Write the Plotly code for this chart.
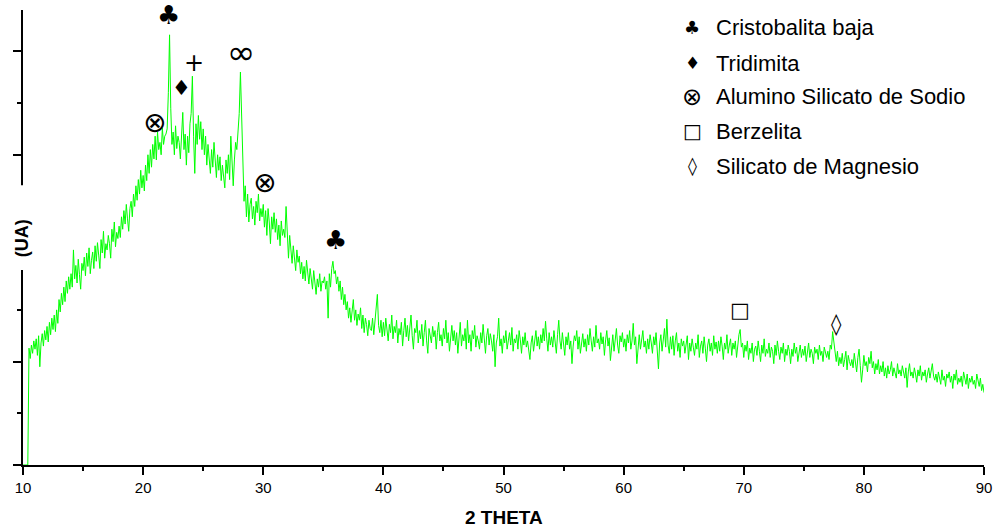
import plotly.graph_objects as go

# ---------------- data ----------------
two_theta_start = 10.0
two_theta_step = 0.1
# intensity (arbitrary units), one row per degree (x.0 .. x.9)
intensity_rows = [
    [0, 0, 0, 0, 0, 113, 103, 116, 108, 120],            # 10
    [112, 122, 106, 125, 95, 118, 127, 115, 130, 121],   # 11
    [134, 119, 138, 126, 142, 131, 145, 129, 150, 137],  # 12
    [160, 148, 166, 155, 172, 158, 178, 166, 182, 170],  # 13
    [185, 172, 208, 180, 193, 176, 199, 184, 170, 195],  # 14
    [188, 201, 183, 205, 192, 210, 185, 198, 206, 190],  # 15
    [212, 197, 215, 203, 190, 218, 205, 226, 200, 214],  # 16
    [208, 222, 214, 200, 228, 216, 235, 211, 225, 219],  # 17
    [231, 220, 240, 228, 246, 233, 252, 238, 226, 248],  # 18
    [255, 240, 262, 250, 270, 256, 276, 262, 285, 268],  # 19
    [280, 265, 290, 275, 300, 282, 305, 288, 310, 296],  # 20
    [318, 295, 322, 305, 312, 300, 326, 310, 318, 320],  # 21
    [325, 360, 416, 345, 310, 322, 300, 328, 306, 318],  # 22
    [312, 296, 325, 341, 305, 320, 290, 318, 302, 330],  # 23
    [340, 376, 318, 282, 330, 310, 338, 315, 332, 305],  # 24
    [325, 300, 318, 290, 310, 296, 282, 305, 288, 312],  # 25
    [292, 278, 300, 285, 298, 275, 290, 280, 268, 295],  # 26
    [282, 300, 276, 318, 285, 270, 295, 312, 305, 322],  # 27
    [340, 380, 335, 290, 255, 270, 240, 262, 235, 252],  # 28
    [258, 238, 250, 232, 255, 244, 262, 236, 248, 240],  # 29
    [252, 230, 246, 222, 248, 235, 214, 240, 228, 244],  # 30
    [225, 238, 218, 232, 212, 236, 222, 228, 220, 250],  # 31
    [215, 200, 222, 208, 195, 212, 200, 188, 208, 196],  # 32
    [202, 185, 196, 180, 192, 178, 198, 184, 175, 190],  # 33
    [182, 170, 188, 175, 165, 180, 172, 185, 168, 178],  # 34
    [176, 182, 170, 178, 142, 185, 172, 190, 197, 185],  # 35
    [188, 175, 182, 168, 178, 160, 172, 155, 165, 150],  # 36
    [158, 142, 152, 138, 148, 160, 140, 150, 135, 146],  # 37
    [140, 152, 132, 145, 128, 142, 136, 125, 140, 132],  # 38
    [130, 142, 126, 138, 148, 165, 135, 128, 140, 124],  # 39
    [138, 125, 142, 130, 120, 136, 128, 145, 122, 134],  # 40
    [128, 140, 118, 132, 126, 138, 115, 130, 142, 124],  # 41
    [135, 120, 130, 145, 125, 112, 132, 128, 140, 118],  # 42
    [130, 122, 136, 115, 128, 140, 120, 108, 132, 125],  # 43
    [118, 134, 124, 130, 112, 128, 138, 120, 126, 115],  # 44
    [132, 122, 140, 118, 128, 110, 126, 135, 120, 130],  # 45
    [116, 128, 108, 124, 138, 115, 126, 120, 132, 112],  # 46
    [140, 118, 126, 110, 130, 122, 135, 114, 125, 120],  # 47
    [112, 128, 118, 136, 120, 108, 125, 132, 116, 127],  # 48
    [120, 110, 126, 95, 118, 124, 142, 115, 122, 108],   # 49
    [125, 118, 130, 112, 120, 128, 116, 133, 110, 122],  # 50
    [118, 126, 112, 130, 121, 108, 124, 116, 128, 114],  # 51
    [120, 112, 102, 118, 125, 110, 122, 130, 115, 124],  # 52
    [112, 126, 118, 132, 120, 139, 122, 110, 128, 116],  # 53
    [124, 114, 130, 118, 108, 126, 140, 120, 112, 128],  # 54
    [118, 106, 124, 116, 128, 112, 120, 98, 115, 125],   # 55
    [120, 130, 112, 124, 108, 118, 127, 114, 122, 110],  # 56
    [126, 116, 132, 120, 110, 124, 114, 135, 118, 122],  # 57
    [112, 128, 117, 124, 106, 121, 130, 115, 123, 101],  # 58
    [118, 126, 110, 122, 132, 116, 108, 125, 119, 128],  # 59
    [114, 122, 110, 126, 118, 130, 112, 120, 137, 116],  # 60
    [124, 98, 118, 126, 112, 121, 130, 114, 120, 108],   # 61
    [122, 112, 126, 118, 108, 124, 116, 128, 112, 93],   # 62
    [118, 126, 110, 122, 132, 114, 141, 116, 108, 124],  # 63
    [112, 125, 106, 120, 128, 110, 118, 104, 122, 115],  # 64
    [120, 108, 116, 125, 102, 118, 110, 122, 114, 106],  # 65
    [118, 112, 126, 104, 115, 120, 108, 124, 113, 100],  # 66
    [116, 122, 110, 118, 106, 125, 112, 119, 108, 120],  # 67
    [110, 124, 115, 102, 118, 112, 126, 108, 116, 122],  # 68
    [106, 118, 112, 120, 104, 116, 126, 131, 114, 118],  # 69
    [104, 116, 110, 120, 102, 113, 108, 118, 100, 112],  # 70
    [115, 106, 120, 110, 100, 116, 108, 122, 105, 112],  # 71
    [108, 118, 104, 114, 110, 98, 116, 106, 120, 110],   # 72
    [102, 114, 108, 118, 100, 112, 106, 116, 110, 98],   # 73
    [112, 105, 118, 108, 114, 100, 110, 116, 104, 112],  # 74
    [106, 115, 100, 110, 118, 104, 112, 108, 98, 114],   # 75
    [108, 112, 102, 116, 106, 110, 100, 114, 108, 104],  # 76
    [110, 102, 116, 112, 129, 120, 106, 100, 110, 96],   # 77
    [104, 98, 108, 95, 102, 110, 92, 106, 100, 96],      # 78
    [102, 94, 108, 98, 90, 104, 112, 96, 80, 92],        # 79
    [106, 96, 100, 90, 104, 98, 110, 94, 100, 88],       # 80
    [98, 92, 102, 88, 96, 90, 100, 86, 94, 84],          # 81
    [96, 88, 92, 100, 86, 94, 90, 84, 98, 88],           # 82
    [92, 86, 96, 88, 84, 94, 75, 90, 98, 86],            # 83
    [90, 84, 94, 88, 80, 92, 86, 96, 82, 90],            # 84
    [86, 92, 80, 88, 94, 84, 90, 98, 86, 82],            # 85
    [88, 80, 90, 84, 78, 92, 82, 86, 76, 88],            # 86
    [84, 90, 80, 86, 74, 88, 82, 92, 78, 84],            # 87
    [80, 86, 76, 90, 82, 78, 88, 74, 84, 80],            # 88
    [86, 78, 82, 74, 88, 80, 76, 84, 72, 78],            # 89
    [70],                                                # 90
]

# peak markers: symbol, 2-theta, label height (arbitrary units)
peak_symbols = ["\u2663", "\u2666", "+", "\u221E", "\u2297", "\u2297", "\u2663", "\u25A1", "\u25CA"]
peak_x = [22.09, 23.23, 24.25, 28.16, 20.92, 30.07, 35.98, 69.68, 77.72]
peak_y = [435, 365, 389, 399, 331, 273, 218, 150, 136]

legend_symbols = ["\u2663", "\u2666", "\u2297", "\u25A1", "\u25CA"]
legend_labels = ["Cristobalita baja", "Tridimita", "Alumino Silicato de Sodio",
                 "Berzelita", "Silicato de Magnesio"]

x_ticks = [10, 20, 30, 40, 50, 60, 70, 80, 90]
y_ticks = [0, 100, 200, 300, 400]

# ---------------- style ----------------
FONT = "Liberation Sans, Arial, sans-serif"
SYM = "DejaVu Sans, sans-serif"
peak_font_size = {"\u2663": 26, "\u2666": 21, "+": 24, "\u221E": 34, "\u2297": 28,
                  "\u25A1": 21, "\u25CA": 21}
legend_font_size = {"\u2663": 18, "\u2666": 17, "\u2297": 24, "\u25A1": 20, "\u25CA": 18}

# ---------------- build ----------------
intensity = [v for row in intensity_rows for v in row]
two_theta = [round(two_theta_start + i * two_theta_step, 2) for i in range(len(intensity))]

fig = go.Figure()
fig.add_trace(go.Scatter(x=two_theta, y=intensity, mode="lines",
                         line=dict(color="#00ff00", width=1), showlegend=False,
                         hoverinfo="skip"))

fig.update_layout(
    width=994, height=529,
    margin=dict(l=23, r=10, t=10, b=64, autoexpand=False),
    paper_bgcolor="white", plot_bgcolor="white",
    font=dict(family=FONT, color="black", size=15),
    showlegend=False,
)
fig.update_xaxes(range=[10, 90], tickvals=x_ticks, ticks="outside", ticklen=8, tickwidth=1.5,
                 tickcolor="black", showline=True, linecolor="black", linewidth=1.5,
                 showgrid=False, zeroline=False, tickfont=dict(size=15, family=FONT),
                 automargin=False,
                 minor=dict(ticks="outside", ticklen=4, tickwidth=1.5, tickcolor="black",
                            dtick=5, tick0=0, showgrid=False))
fig.update_yaxes(range=[0, 440], tickvals=y_ticks, ticks="outside", ticklen=8, tickwidth=1.5,
                 tickcolor="black", showline=True, linecolor="black", linewidth=1.5,
                 showgrid=False, zeroline=False, showticklabels=False, automargin=False,
                 minor=dict(ticks="outside", ticklen=4, tickwidth=1.5, tickcolor="black",
                            dtick=50, tick0=0, showgrid=False))

# white gap in the y axis behind the axis title
fig.add_shape(type="rect", xref="paper", yref="paper", x0=-0.03, x1=0.002,
              y0=0.4286, y1=0.615, fillcolor="white", line=dict(width=0), layer="above")

for s, xx, yy in zip(peak_symbols, peak_x, peak_y):
    fig.add_annotation(x=xx, y=yy, xref="x", yref="y", text=s, showarrow=False,
                       font=dict(family=SYM, size=peak_font_size[s], color="black"),
                       xanchor="center", yanchor="middle")

leg_y = [0.9626, 0.8835, 0.8088, 0.734, 0.657]
for s, lab, yy in zip(legend_symbols, legend_labels, leg_y):
    fig.add_annotation(x=0.6965, y=yy, xref="paper", yref="paper", text=s, showarrow=False,
                       font=dict(family=SYM, size=legend_font_size[s], color="black"),
                       xanchor="center", yanchor="middle")
    fig.add_annotation(x=0.7214, y=yy, xref="paper", yref="paper", text=lab, showarrow=False,
                       font=dict(family=FONT, size=22, color="black"), xshift=-2,
                       xanchor="left", yanchor="middle")

fig.add_annotation(x=0.5, y=-0.1143, xref="paper", yref="paper", text="<b>2 THETA</b>",
                   showarrow=False, font=dict(family=FONT, size=19, color="black"),
                   xanchor="center", yanchor="middle")
fig.add_annotation(x=-0.0007, y=0.4989, xref="paper", yref="paper", text="<b>(UA)</b>",
                   showarrow=False, textangle=-90, font=dict(family=FONT, size=18, color="black"),
                   xanchor="center", yanchor="middle")

fig.write_html("out.html")
